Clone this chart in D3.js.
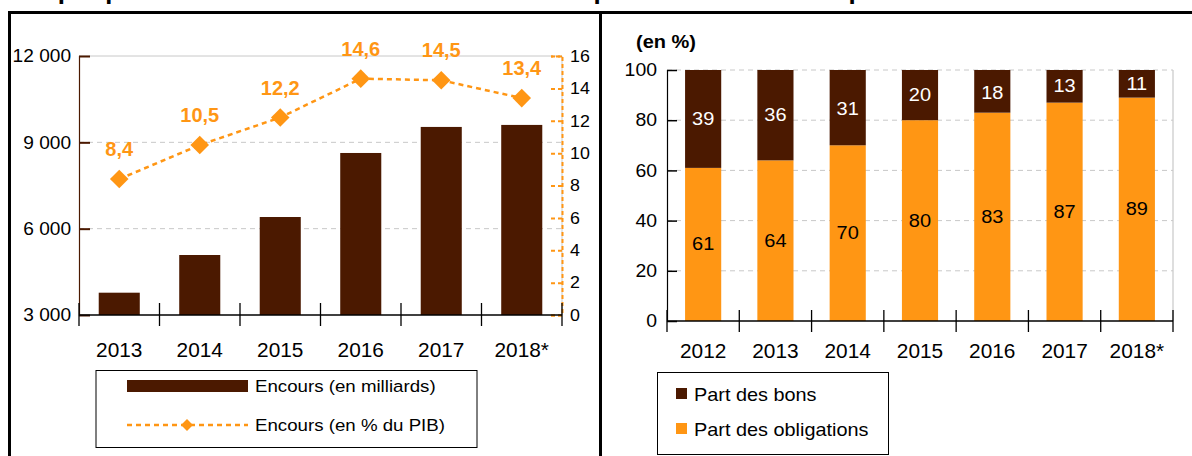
<!DOCTYPE html>
<html>
<head>
<meta charset="utf-8">
<script src="https://cdn.jsdelivr.net/npm/d3@7"></script>
<style>
  html, body { margin: 0; padding: 0; background: #fff; }
  svg { display: block; font-family: "Liberation Sans", Arial, sans-serif; }
</style>
</head>
<body>
<svg id="chart" width="1192" height="456"></svg>
<script>
// ---------- DATA ----------
const titleText = "Graphique 6 : Évolution de l'encours des titres publics et de sa composition";

const yearsLeft = ["2013", "2014", "2015", "2016", "2017", "2018*"];
const encoursMilliards = [3775, 5085, 6405, 8630, 9535, 9605];
const encoursPctPIB = [8.4, 10.5, 12.2, 14.6, 14.5, 13.4];
const leftTicks = [3000, 6000, 9000, 12000];
const rightTicks = [0, 2, 4, 6, 8, 10, 12, 14, 16];
const leftLegend = ["Encours (en milliards)", "Encours (en % du PIB)"];

const yearsRight = ["2012", "2013", "2014", "2015", "2016", "2017", "2018*"];
const partBons = [39, 36, 31, 20, 18, 13, 11];
const partObligations = [61, 64, 70, 80, 83, 87, 89];
const pctTicks = [0, 20, 40, 60, 80, 100];
const rightLegend = ["Part des bons", "Part des obligations"];
const rightUnit = "(en %)";

// ---------- STYLE ----------
const BROWN = "#4b1900";
const ORANGE = "#ff9614";
const GRID = "#c8c8c8";
const SX = 1.08;   // horizontal stretch of the original fonts

const svg = d3.select("#chart");

function stretch(sel, s) {
  sel.each(function () {
    const t = d3.select(this);
    const x = +t.attr("x") || 0, y = +t.attr("y") || 0;
    t.attr("transform", `translate(${x},${y}) scale(${s},1) translate(${-x},${-y})`);
  });
}

// Title (cut off at top, as in the original)
svg.append("text").attr("x", 13).attr("y", -0.8)
  .attr("font-size", 24).attr("font-weight", "bold").attr("fill", "#000")
  .attr("class", "sx")
  .text(titleText);

// Frame
svg.append("line").attr("x1", 8).attr("x2", 1192).attr("y1", 12.5).attr("y2", 12.5)
  .attr("stroke", "#000").attr("stroke-width", 3);
svg.append("line").attr("x1", 9.5).attr("x2", 9.5).attr("y1", 11).attr("y2", 456)
  .attr("stroke", "#000").attr("stroke-width", 3);
svg.append("line").attr("x1", 600.5).attr("x2", 600.5).attr("y1", 11).attr("y2", 456)
  .attr("stroke", "#000").attr("stroke-width", 3);

const fmtSpace = d => d3.format(",")(d).replace(/,/g, " ");

// ================= LEFT CHART =================
(function () {
  const x0 = 79, x1 = 562, yTop = 56, yBot = 315;
  const x = d3.scaleBand().domain(yearsLeft).range([x0, x1]).padding(0);
  const yL = d3.scaleLinear().domain([3000, 12000]).range([yBot, yTop]);
  const yR = d3.scaleLinear().domain([0, 16]).range([yBot, yTop]);
  const g = svg.append("g");

  // grid
  g.selectAll("line.grid").data(leftTicks.filter(t => t > 3000 && t < 12000)).enter()
    .append("line").attr("x1", x0).attr("x2", x1)
    .attr("y1", d => yL(d)).attr("y2", d => yL(d))
    .attr("stroke", GRID).attr("stroke-width", 1).attr("stroke-dasharray", "5,4");
  g.append("line").attr("x1", x0).attr("x2", x1).attr("y1", yL(12000)).attr("y2", yL(12000))
    .attr("stroke", GRID).attr("stroke-width", 1);
  g.append("line").attr("x1", x1).attr("x2", x1).attr("y1", yTop).attr("y2", yBot)
    .attr("stroke", GRID).attr("stroke-width", 1);

  // bars
  const bw = x.bandwidth() * 0.51;
  g.selectAll("rect.bar").data(yearsLeft).enter().append("rect")
    .attr("x", d => x(d) + (x.bandwidth() - bw) / 2)
    .attr("width", bw)
    .attr("y", (d, i) => yL(encoursMilliards[i]))
    .attr("height", (d, i) => yBot - yL(encoursMilliards[i]))
    .attr("fill", BROWN);

  // left axis
  const axL = g.append("g").attr("transform", `translate(${x0},0)`)
    .call(d3.axisLeft(yL).tickValues(leftTicks).tickSize(-11).tickPadding(8).tickFormat(fmtSpace));
  axL.select(".domain").attr("stroke", BROWN).attr("stroke-width", 1.2);
  axL.selectAll(".tick line").attr("stroke", BROWN).attr("stroke-width", 2);
  axL.selectAll(".tick text").attr("font-size", 17.7).attr("fill", "#000").attr("class", "sx")
    .attr("font-family", "Liberation Sans, Arial, sans-serif");

  // right axis
  const axR = g.append("g").attr("transform", `translate(${x1},0)`)
    .call(d3.axisRight(yR).tickValues(rightTicks).tickSize(-11).tickPadding(8));
  axR.select(".domain").attr("stroke", ORANGE).attr("stroke-width", 2).attr("stroke-dasharray", "4,3");
  axR.selectAll(".tick line").attr("stroke", ORANGE).attr("stroke-width", 2).attr("stroke-dasharray", "4,3");
  axR.selectAll(".tick text").attr("font-size", 16.5).attr("fill", "#000").attr("class", "sx")
    .attr("font-family", "Liberation Sans, Arial, sans-serif");

  // x axis
  g.append("line").attr("x1", x0).attr("x2", x1).attr("y1", yBot).attr("y2", yBot)
    .attr("stroke", "#000").attr("stroke-width", 1.3);
  const edges = yearsLeft.map(d => x(d)).concat([x1]);
  g.selectAll("line.sep").data(edges).enter().append("line")
    .attr("x1", d => d).attr("x2", d => d).attr("y1", yBot - 12).attr("y2", yBot + 11)
    .attr("stroke", "#000").attr("stroke-width", 1.3);
  g.selectAll("text.xl").data(yearsLeft).enter().append("text")
    .attr("x", d => x(d) + x.bandwidth() / 2).attr("y", 357)
    .attr("text-anchor", "middle").attr("font-size", 19.3).attr("class", "sx").text(d => d);

  // line
  const line = d3.line().x((d, i) => x(yearsLeft[i]) + x.bandwidth() / 2).y(d => yR(d));
  g.append("path").datum(encoursPctPIB).attr("d", line)
    .attr("fill", "none").attr("stroke", ORANGE).attr("stroke-width", 2.5).attr("stroke-dasharray", "5,4");
  const diamond = d3.symbol().type(d3.symbolDiamond2).size(220);
  g.selectAll("path.pt").data(encoursPctPIB).enter().append("path")
    .attr("d", diamond)
    .attr("transform", (d, i) => `translate(${x(yearsLeft[i]) + x.bandwidth() / 2},${yR(d)})`)
    .attr("fill", ORANGE);
  g.selectAll("text.lab").data(encoursPctPIB).enter().append("text")
    .attr("x", (d, i) => x(yearsLeft[i]) + x.bandwidth() / 2)
    .attr("y", d => yR(d) - 23)
    .attr("text-anchor", "middle").attr("font-size", 20).attr("font-weight", "bold")
    .attr("fill", ORANGE).text(d => String(d).replace(".", ","));

  // legend
  g.append("rect").attr("x", 96).attr("y", 370.5).attr("width", 381).attr("height", 77)
    .attr("fill", "#fff").attr("stroke", "#000").attr("stroke-width", 1);
  g.append("rect").attr("x", 127).attr("y", 380).attr("width", 121).attr("height", 12).attr("fill", BROWN);
  g.append("line").attr("x1", 127).attr("x2", 248).attr("y1", 425).attr("y2", 425)
    .attr("stroke", ORANGE).attr("stroke-width", 2.5).attr("stroke-dasharray", "5,4");
  g.append("path").attr("d", d3.symbol().type(d3.symbolDiamond2).size(90))
    .attr("transform", "translate(187,425)").attr("fill", ORANGE);
  g.append("text").attr("x", 255).attr("y", 392).attr("font-size", 17.3).attr("class", "sx").text(leftLegend[0]);
  g.append("text").attr("x", 255).attr("y", 431).attr("font-size", 17.3).attr("class", "sx").text(leftLegend[1]);
})();

// ================= RIGHT CHART =================
(function () {
  const x0 = 667, x1 = 1173, yTop = 70, yBot = 321;
  const x = d3.scaleBand().domain(yearsRight).range([x0, x1]).padding(0);
  const y = d3.scaleLinear().domain([0, 100]).range([yBot, yTop]);
  const g = svg.append("g");

  g.append("text").attr("x", 636).attr("y", 48).attr("font-size", 18.5).attr("font-weight", "bold")
    .attr("class", "sx").text(rightUnit);

  g.selectAll("line.grid").data(pctTicks.filter(t => t > 0)).enter()
    .append("line").attr("x1", x0).attr("x2", x1)
    .attr("y1", d => y(d)).attr("y2", d => y(d))
    .attr("stroke", GRID).attr("stroke-width", 1).attr("stroke-dasharray", "5,4");
  g.append("line").attr("x1", x1).attr("x2", x1).attr("y1", yTop).attr("y2", yBot)
    .attr("stroke", GRID).attr("stroke-width", 1.2);

  const bw = x.bandwidth() * 0.5;
  const bx = d => x(d) + (x.bandwidth() - bw) / 2;
  g.selectAll("rect.ob").data(yearsRight).enter().append("rect")
    .attr("x", bx).attr("width", bw)
    .attr("y", (d, i) => y(partObligations[i]))
    .attr("height", (d, i) => yBot - y(partObligations[i]))
    .attr("fill", ORANGE);
  g.selectAll("rect.bo").data(yearsRight).enter().append("rect")
    .attr("x", bx).attr("width", bw)
    .attr("y", (d, i) => y(100))
    .attr("height", (d, i) => y(partObligations[i]) - y(100))
    .attr("fill", BROWN);

  // labels
  g.selectAll("text.lo").data(yearsRight).enter().append("text")
    .attr("x", d => x(d) + x.bandwidth() / 2)
    .attr("y", (d, i) => y(partObligations[i] / 2) + 6)
    .attr("text-anchor", "middle").attr("font-size", 18.5).attr("fill", "#000").attr("class", "sx")
    .text((d, i) => partObligations[i]);
  g.selectAll("text.lb").data(yearsRight).enter().append("text")
    .attr("x", d => x(d) + x.bandwidth() / 2)
    .attr("y", (d, i) => y(100 - partBons[i] / 2) + 6)
    .attr("text-anchor", "middle").attr("font-size", 18.5).attr("fill", "#fff").attr("class", "sx")
    .text((d, i) => partBons[i]);

  // y axis
  const ax = g.append("g").attr("transform", `translate(${x0},0)`)
    .call(d3.axisLeft(y).tickValues(pctTicks).tickSize(-10).tickPadding(10));
  ax.select(".domain").attr("stroke", "#000").attr("stroke-width", 1.2);
  ax.selectAll(".tick line").attr("stroke", "#000").attr("stroke-width", 1.5);
  ax.selectAll(".tick text").attr("font-size", 18).attr("fill", "#000").attr("class", "sx")
    .attr("font-family", "Liberation Sans, Arial, sans-serif");

  // x axis
  g.append("line").attr("x1", x0).attr("x2", x1).attr("y1", yBot).attr("y2", yBot)
    .attr("stroke", "#000").attr("stroke-width", 1.3);
  const edges = yearsRight.map(d => x(d)).concat([x1]);
  g.selectAll("line.sep").data(edges).enter().append("line")
    .attr("x1", d => d).attr("x2", d => d).attr("y1", yBot - 11).attr("y2", yBot + 11)
    .attr("stroke", "#000").attr("stroke-width", 1.3);
  g.selectAll("text.xl").data(yearsRight).enter().append("text")
    .attr("x", d => x(d) + x.bandwidth() / 2).attr("y", 358)
    .attr("text-anchor", "middle").attr("font-size", 19.3).attr("class", "sx").text(d => d);

  // legend
  g.append("rect").attr("x", 657.5).attr("y", 372.5).attr("width", 231).attr("height", 82)
    .attr("fill", "#fff").attr("stroke", "#000").attr("stroke-width", 1);
  g.append("rect").attr("x", 676).attr("y", 388).attr("width", 11).attr("height", 11).attr("fill", BROWN);
  g.append("rect").attr("x", 676).attr("y", 423).attr("width", 11).attr("height", 11).attr("fill", ORANGE);
  g.append("text").attr("x", 694).attr("y", 401).attr("font-size", 18.4).attr("class", "sx").text(rightLegend[0]);
  g.append("text").attr("x", 694).attr("y", 436).attr("font-size", 18.4).attr("class", "sx").text(rightLegend[1]);
})();

stretch(svg.selectAll("text.sx"), SX);
</script>
</body>
</html>
